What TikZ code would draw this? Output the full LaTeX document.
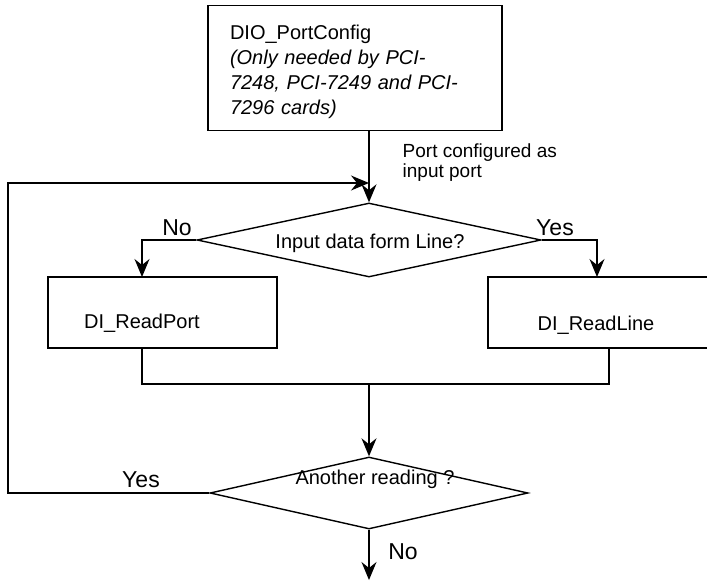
\documentclass[tikz,border=0pt]{standalone}
\usepackage{fontspec}
\setmainfont{Liberation Sans}
\usetikzlibrary{shapes.geometric,arrows.meta}
\begin{document}
\begin{tikzpicture}[x=1pt,y=-1pt,
  line width=1.4pt,
  flow/.style={-{Stealth[length=18pt,width=15pt,inset=6pt]}},
  procbox/.style={draw, rectangle, inner sep=0pt},
  decision/.style={draw, diamond, inner sep=0pt},
  lbl/.style={font=\fontsize{20}{24}\selectfont, inner sep=0pt},
  branch/.style={font=\fontsize{23}{26}\selectfont, inner sep=0pt},
]
\useasboundingbox (0,0) rectangle (707,581);
\clip (0,0) rectangle (707,581);

% configuration step
\node[procbox, minimum width=294pt, minimum height=125pt] (cfg) at (355,68) {};
\node[lbl, text width=250pt, align=left, font=\fontsize{20}{25}\selectfont]
  (cfgtext) at (355,72) {DIO\_PortConfig\\\textit{(Only needed by PCI-}\\\textit{7248, PCI-7249 and PCI-}\\\textit{7296 cards)}};

% decisions
\node[decision, minimum width=344pt, minimum height=74pt] (d1) at (369,240) {};
\node[decision, minimum width=318pt, minimum height=72pt] (d2) at (369,493) {};
\node[lbl] (q1) at (370,243) {Input data form Line?};
\node[lbl] (q2) at (375,479) {Another reading ?};

% read functions
\node[procbox, minimum width=229pt, minimum height=71pt] (boxL) at (162.5,312.5) {};
\node[procbox, minimum width=242pt, minimum height=71pt] (boxR) at (609,312.5) {};
\node[lbl] (tL) at (142,323) {DI\_ReadPort};
\node[lbl] (tR) at (596,325) {DI\_ReadLine};

% branch labels
\node[branch] (noA) at (177,228) {No};
\node[branch] (yesA) at (555,228) {Yes};
\node[branch] (yesB) at (141,480) {Yes};
\node[branch] (noB) at (403,552) {No};
\node[lbl, anchor=west, align=left, font=\fontsize{19}{20}\selectfont]
  (portnote) at (402,163) {Port configured as\\input port};

% routing points
\coordinate (merge) at (369,183);
\coordinate (loop) at (8,183);
\coordinate (inL) at (142,277);
\coordinate (inR) at (597,277);
\coordinate (outL) at (142,348);
\coordinate (outR) at (609,348);
\coordinate (join) at (369,384);
\coordinate (exit) at (369,580);

% connectors
\draw[flow] (cfg.south -| d1.north) -- (d1.north);
\draw[flow] (d2.west) -| (loop) -- (merge);
\draw[flow] (d1.west) -| (inL);
\draw[flow] (d1.east) -| (inR);
\draw (outL) |- (join) -| (outR);
\draw[flow] (join) -- (d2.north);
\draw[flow] (d2.south) -- (exit);
\end{tikzpicture}
\end{document}
